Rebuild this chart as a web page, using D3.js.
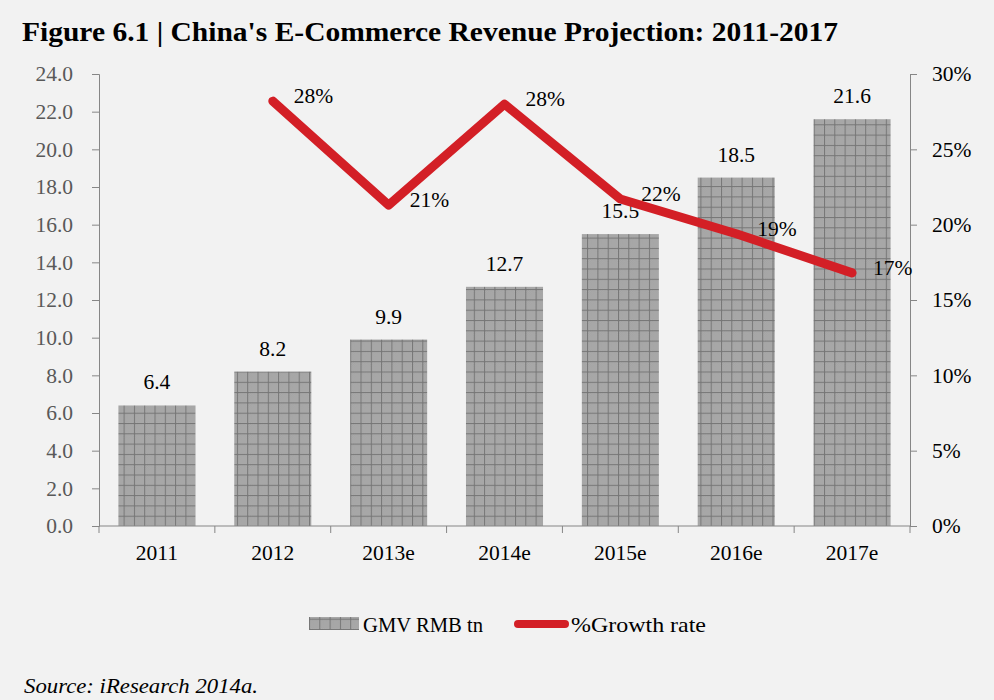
<!DOCTYPE html>
<html><head><meta charset="utf-8">
<script src="https://cdn.jsdelivr.net/npm/d3@7"></script>
<style>
html,body{margin:0;padding:0;background:#f2f2f2;}
svg{display:block;}
text{font-family:"Liberation Serif","DejaVu Serif",serif;}
</style></head>
<body>
<svg id="chart" width="994" height="700"></svg>
<script>
const categories = ["2011","2012","2013e","2014e","2015e","2016e","2017e"];
const gmvValues = [6.4, 8.2, 9.9, 12.7, 15.5, 18.5, 21.6];
const growthValues = [null, 28.2, 21.3, 28.0, 21.7, 19.4, 16.8];
const growthLabels = [null, "28%", "21%", "28%", "22%", "19%", "17%"];
const leftTicks = [0,2,4,6,8,10,12,14,16,18,20,22,24];
const rightTicks = [0,5,10,15,20,25,30];
const seriesNames = ["GMV RMB tn", "%Growth rate"];

const svg = d3.select("#chart");
const W = 994, H = 700;
svg.append("rect").attr("width", W).attr("height", H).attr("fill", "#f2f2f2");

const plot = {left: 99, right: 910, top: 74, bottom: 526};
const FS = 21.5;

// pattern
const defs = svg.append("defs");
const ps = 10.3;
const pat = defs.append("pattern").attr("id","grid").attr("patternUnits","userSpaceOnUse")
  .attr("width", ps).attr("height", ps).attr("x", 0).attr("y", plot.bottom);
pat.append("rect").attr("width", ps).attr("height", ps).attr("fill", "#adadad");
for (let i = 0; i < 10; i++) for (let j = 0; j < 10; j++) {
  if ((i + j) % 2 === 0) pat.append("rect").attr("x", i).attr("y", j).attr("width", 1).attr("height", 1).attr("fill", "#a0a0a0");
}
pat.append("rect").attr("x", 0).attr("y", 0).attr("width", ps).attr("height", 1).attr("fill", "#767676");
pat.append("rect").attr("x", 0).attr("y", 0).attr("width", 1).attr("height", ps).attr("fill", "#767676");

// title
svg.append("text").attr("x", 22).attr("y", 41)
  .attr("font-size", 27).attr("font-weight", "bold").attr("fill", "#000")
  .attr("textLength", 816).attr("lengthAdjust", "spacingAndGlyphs")
  .text("Figure 6.1 | China's E-Commerce Revenue Projection: 2011-2017");

const x = d3.scaleBand().domain(categories).range([plot.left, plot.right]).paddingInner(0.335).paddingOuter(0.1675);
const y = d3.scaleLinear().domain([0, 24]).range([plot.bottom, plot.top]);
const y2 = d3.scaleLinear().domain([0, 30]).range([plot.bottom, plot.top]);

const axisColor = "#868686";

// bars
svg.append("g").selectAll("rect").data(gmvValues).join("rect")
  .attr("x", (d,i) => x(categories[i]))
  .attr("y", d => y(d))
  .attr("width", x.bandwidth())
  .attr("height", d => plot.bottom - y(d))
  .attr("fill", "url(#grid)");

// bar labels
svg.append("g").selectAll("text").data(gmvValues).join("text")
  .attr("x", (d,i) => x(categories[i]) + x.bandwidth()/2)
  .attr("y", d => y(d) - 16)
  .attr("text-anchor", "middle").attr("font-size", FS).attr("fill", "#000")
  .text(d => d.toFixed(1));

// left axis
const gl = svg.append("g").attr("transform", `translate(${plot.left},0)`)
  .call(d3.axisLeft(y).tickValues(leftTicks).tickFormat(d3.format(".1f")).tickSize(7).tickPadding(19));
gl.select(".domain").attr("stroke", axisColor);
gl.selectAll(".tick line").attr("stroke", axisColor);
gl.selectAll(".tick text").attr("font-size", FS).attr("fill", "#595959").attr("font-family", '"Liberation Serif",serif');

// right axis
const gr = svg.append("g").attr("transform", `translate(${plot.right},0)`)
  .call(d3.axisRight(y2).tickValues(rightTicks).tickFormat(d => d + "%").tickSize(7).tickPadding(15));
gr.select(".domain").attr("stroke", axisColor);
gr.selectAll(".tick line").attr("stroke", axisColor);
gr.selectAll(".tick text").attr("font-size", FS).attr("fill", "#000").attr("font-family", '"Liberation Serif",serif');

// bottom axis
const boundaries = d3.range(categories.length + 1).map(i => plot.left + i * (plot.right - plot.left) / categories.length);
svg.append("line").attr("x1", plot.left).attr("x2", plot.right).attr("y1", plot.bottom).attr("y2", plot.bottom).attr("stroke", axisColor);
svg.append("g").selectAll("line").data(boundaries).join("line")
  .attr("x1", d => d).attr("x2", d => d).attr("y1", plot.bottom).attr("y2", plot.bottom + 7).attr("stroke", axisColor);
svg.append("g").selectAll("text").data(categories).join("text")
  .attr("x", d => x(d) + x.bandwidth()/2).attr("y", 560)
  .attr("text-anchor", "middle").attr("font-size", FS).attr("fill", "#000").text(d => d);

// line
const pts = growthValues.map((v,i) => ({c: categories[i], v, l: growthLabels[i]})).filter(d => d.v !== null);
const line = d3.line().x(d => x(d.c) + x.bandwidth()/2).y(d => y2(d.v));
svg.append("path").datum(pts).attr("d", line).attr("fill", "none")
  .attr("stroke", "#d31f26").attr("stroke-width", 9).attr("stroke-linecap", "round").attr("stroke-linejoin", "round");

svg.append("g").selectAll("text").data(pts).join("text")
  .attr("x", d => x(d.c) + x.bandwidth()/2 + 21)
  .attr("y", d => y2(d.v) + 2)
  .attr("font-size", FS).attr("fill", "#000").text(d => d.l);

// legend
svg.append("rect").attr("x", 309).attr("y", 617).attr("width", 50).attr("height", 13).attr("fill", "url(#grid)");
svg.append("text").attr("x", 363).attr("y", 632).attr("font-size", FS).attr("fill", "#000")
  .attr("textLength", 120).attr("lengthAdjust", "spacingAndGlyphs").text(seriesNames[0]);
svg.append("line").attr("x1", 518).attr("x2", 565).attr("y1", 624).attr("y2", 624)
  .attr("stroke", "#d31f26").attr("stroke-width", 8).attr("stroke-linecap", "round");
svg.append("text").attr("x", 571).attr("y", 632).attr("font-size", FS).attr("fill", "#000")
  .attr("textLength", 135).attr("lengthAdjust", "spacingAndGlyphs").text(seriesNames[1]);

// source
svg.append("text").attr("x", 24).attr("y", 693).attr("font-size", 20).attr("font-style", "italic").attr("fill", "#000")
  .attr("textLength", 234).attr("lengthAdjust", "spacingAndGlyphs").text("Source: iResearch 2014a.");
</script>
</body></html>
